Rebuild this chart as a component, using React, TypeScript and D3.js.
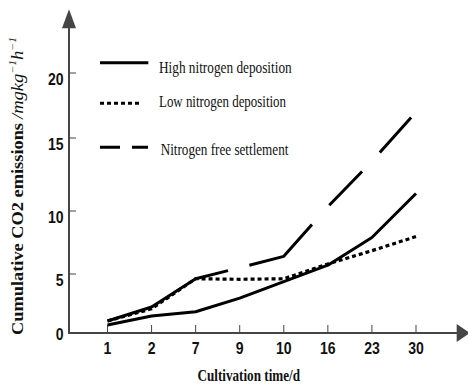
import React from "react";
import * as d3 from "d3";

const categories = ["1", "2", "7", "9", "10", "16", "23", "30"];
const highN = [0.68, 1.44, 1.8, 2.95, 4.35, 5.7, 7.9, 11.2];
const lowN = [1.02, 2.05, 4.6, 4.55, 4.6, 5.8, 6.85, 7.97];
const freeN = [1.02, 2.2, 4.6, 5.5, 6.4, 10.3, 13.4, 17.0];
const yTicks = [0, 5, 10, 15, 20];
const legendLabels = ["High nitrogen deposition", "Low nitrogen deposition", "Nitrogen free settlement"];

const W = 468;
const H = 385;
const AX = 69; // y axis x
const AY = 333; // x axis y

const x = d3.scalePoint<string>().domain(categories).range([107.5, 416]);
const y = d3.scaleLinear().domain([0, 5, 10, 15, 20]).range([333, 274, 211, 138, 73]);

const line = d3
  .line<number>()
  .x((_, i) => x(categories[i]) as number)
  .y((d) => y(d));

const AXIS = "#454545";
const tickFont = "'Liberation Sans Narrow', 'Arial Narrow', 'Liberation Sans', sans-serif";
const serif = "'Liberation Serif', 'Times New Roman', serif";

export default function App() {
  const series = [
    { data: highN, dash: undefined as string | undefined, w: 3 },
    { data: lowN, dash: "4 3", w: 3.2 },
    { data: freeN, dash: "132 22 78 26 47 26 47", w: 3 },
  ];
  const legendY = [62.7, 103.3, 147.3];
  const legendTextY = [72.5, 106.7, 155];
  const legendTextX = [159, 159, 160.7];
  const legendTextLen = [132.7, 127, 127.7];
  const legendEnd = [148.3, 142, 148];
  const legendDash = [undefined, "4 3", "20 12"];

  return (
    <svg
      width={W}
      height={H}
      style={{ position: "fixed", left: 0, top: 0, background: "#fff" }}
    >
      <rect x={0} y={0} width={W} height={H} fill="#fff" />
      {/* axes */}
      <line x1={AX} y1={AY} x2={AX} y2={27} stroke={AXIS} strokeWidth={2} />
      <path d={`M${AX},9.3 L${AX + 7},28.3 L${AX - 7},28.3 Z`} fill={AXIS} />
      <line x1={AX - 1} y1={AY} x2={457} y2={AY} stroke={AXIS} strokeWidth={2} />
      <path d={`M470,${AY} L456.7,${AY - 9} L456.7,${AY + 9} Z`} fill={AXIS} />

      {/* y ticks */}
      {yTicks.map((t) => (
        <g key={t}>
          {t > 0 && (
            <line x1={AX} x2={AX + 7} y1={y(t)} y2={y(t)} stroke={AXIS} strokeWidth={1} />
          )}
          <text
            x={63.5}
            y={Math.min(y(t) + 11.5, 340)}
            textAnchor="end"
            fontFamily={tickFont}
            fontWeight="bold"
            fontSize={16}
            textLength={String(t).length * 7.8}
            lengthAdjust="spacingAndGlyphs"
            fill="#111"
          >
            {t}
          </text>
        </g>
      ))}

      {/* x ticks */}
      {categories.map((c) => (
        <g key={c}>
          <line x1={x(c)} x2={x(c)} y1={AY - 8} y2={AY} stroke={AXIS} strokeWidth={1} />
          <text
            x={x(c)}
            y={354}
            textAnchor="middle"
            fontFamily={tickFont}
            fontWeight="bold"
            fontSize={16}
            textLength={c.length * 7.8}
            lengthAdjust="spacingAndGlyphs"
            fill="#111"
          >
            {c}
          </text>
        </g>
      ))}

      {/* series */}
      {series.map((s, i) => (
        <path
          key={i}
          d={line(s.data) as string}
          fill="none"
          stroke="#000"
          strokeWidth={s.w}
          strokeDasharray={s.dash}
          strokeLinejoin="round"
        />
      ))}

      {/* legend */}
      {legendLabels.map((l, i) => (
        <g key={l}>
          <line
            x1={100}
            x2={legendEnd[i]}
            y1={legendY[i]}
            y2={legendY[i]}
            stroke="#000"
            strokeWidth={3}
            strokeDasharray={legendDash[i]}
          />
          <text
            x={legendTextX[i]}
            y={legendTextY[i]}
            fontFamily={serif}
            fontSize={16}
            textLength={legendTextLen[i]}
            lengthAdjust="spacingAndGlyphs"
            fill="#111"
          >
            {l}
          </text>
        </g>
      ))}

      {/* x axis title */}
      <text
        x={197.5}
        y={381}
        fontFamily={serif}
        fontWeight="bold"
        fontSize={17}
        textLength={102.5}
        lengthAdjust="spacingAndGlyphs"
        fill="#111"
      >
        Cultivation time/d
      </text>

      {/* y axis title */}
      <text
        transform="translate(23,335) rotate(-90)"
        fontFamily={serif}
        fontWeight="bold"
        fontSize={16}
        textLength={212}
        lengthAdjust="spacingAndGlyphs"
        fill="#111"
      >
        Cumulative CO2 emissions
      </text>
      <text
        transform="translate(23,119) rotate(-90)"
        fontFamily={serif}
        fontStyle="italic"
        fontSize={16}
        textLength={82}
        lengthAdjust="spacingAndGlyphs"
        fill="#111"
      >
        /mgkg
        <tspan fontSize={10} dy={-7}>−1</tspan>
        <tspan dy={7}>h</tspan>
        <tspan fontSize={10} dy={-7}>−1</tspan>
      </text>
    </svg>
  );
}
